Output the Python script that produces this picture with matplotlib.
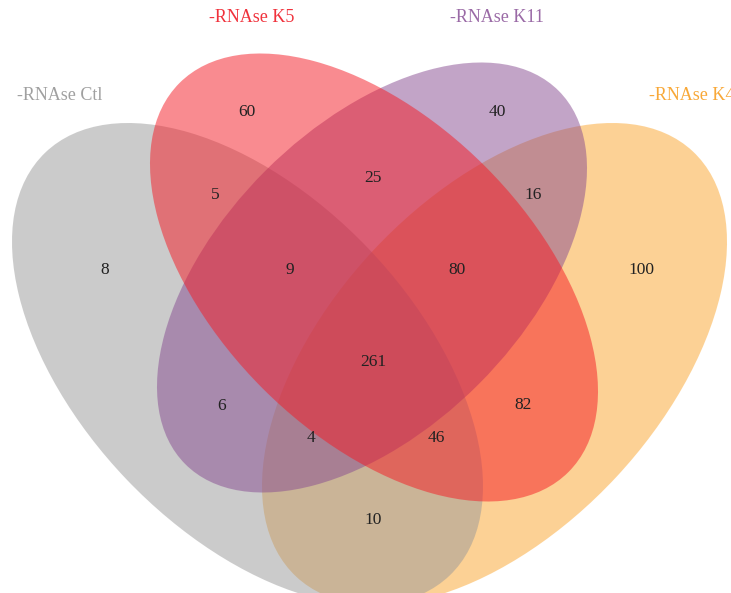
import math
import matplotlib
matplotlib.use("Agg")
import matplotlib.pyplot as plt
from matplotlib.patches import Ellipse

# ---- data ----
set_names = ["-RNAse Ctl", "-RNAse K5", "-RNAse K11", "-RNAse K4"]
set_colors = ["#999999", "#f51923", "#874b91", "#fba52d"]
label_colors = ["#a0a0a0", "#f0323c", "#9a6aa6", "#f8a838"]
# region counts (sets involved -> count)
region_keys = ["Ctl", "K5", "K11", "K4",
               "Ctl&K5", "K5&K11", "K11&K4",
               "Ctl&K5&K11", "K5&K11&K4",
               "Ctl&K5&K11&K4",
               "Ctl&K11", "K5&K4",
               "Ctl&K11&K4", "Ctl&K5&K4",
               "Ctl&K4"]
region_counts = [8, 60, 40, 100,
                 5, 25, 16,
                 9, 80,
                 261,
                 6, 82,
                 4, 46,
                 10]

# ---- layout (pixel space) ----
W, H = 731, 593
fig = plt.figure(figsize=(W / 100, H / 100), dpi=100)
ax = fig.add_axes([0, 0, 1, 1])
ax.set_xlim(0, W)
ax.set_ylim(H, 0)
ax.axis("off")

RATIO = 1.75


def ellipse_from_extents(cx, cy, hx, hy, sign):
    s = hx * hx + hy * hy
    b = math.sqrt(s / (1 + RATIO ** 2))
    a = RATIO * b
    c2 = (hx * hx - hy * hy) / (a * a - b * b)
    theta = 0.5 * math.degrees(math.acos(max(-1, min(1, c2))))
    return a, b, sign * theta


# ellipse geometry: (cx, cy, half-extent x, half-extent y, direction)
geom = {
    0: (247.5, 364.0, 235.5, 241.0, 1),
    1: (374.0, 277.5, 224.0, 224.0, 1),
    2: (372.0, 277.5, 215.0, 215.0, -1),
    3: (494.5, 364.0, 232.5, 241.0, -1),
}
draw_order = [3, 0, 2, 1]
for z, i in enumerate(draw_order):
    cx, cy, hx, hy, sg = geom[i]
    a, b, ang = ellipse_from_extents(cx, cy, hx, hy, sg)
    ax.add_patch(Ellipse((cx, cy), 2 * a, 2 * b, angle=ang,
                         facecolor=set_colors[i], alpha=0.5,
                         edgecolor="none", zorder=z + 1))

label_pos = {
    "Ctl": (105, 270), "K5": (247, 112), "K11": (497, 112), "K4": (641, 270),
    "Ctl&K5": (215, 195), "K5&K11": (373, 178), "K11&K4": (533, 195),
    "Ctl&K5&K11": (290, 270), "K5&K11&K4": (457, 270),
    "Ctl&K5&K11&K4": (373, 362),
    "Ctl&K11": (222, 406), "K5&K4": (523, 405),
    "Ctl&K11&K4": (311, 438), "Ctl&K5&K4": (436, 438),
    "Ctl&K4": (373, 520),
}
serif = ["Liberation Serif", "DejaVu Serif"]
for key, cnt in zip(region_keys, region_counts):
    x, y = label_pos[key]
    ax.text(x, y, str(cnt), ha="center", va="center", fontsize=12.5,
            family=serif, color="#222222", zorder=10)

name_pos = [(60, 95), (252, 18), (497, 18), (692, 95)]
for name, col, (x, y) in zip(set_names, label_colors, name_pos):
    ax.text(x, y, name, ha="center", va="center", fontsize=13,
            family=serif, color=col, zorder=10)

fig.savefig("out.png", dpi=100)
